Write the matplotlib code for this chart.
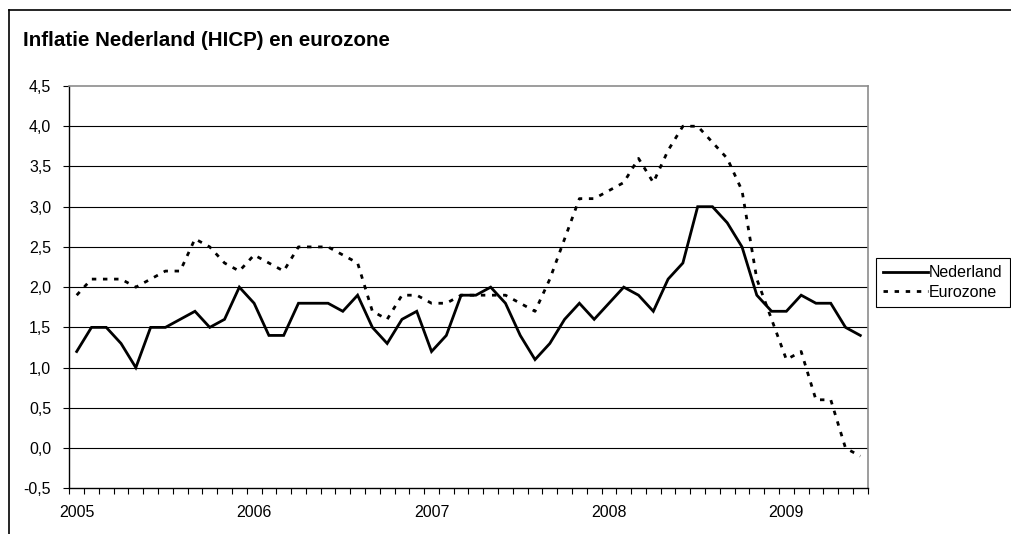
import matplotlib
matplotlib.use("Agg")
import matplotlib.pyplot as plt
from matplotlib.lines import Line2D

plt.rcParams['font.family'] = ['Liberation Sans', 'DejaVu Sans']

title = "Inflatie Nederland (HICP) en eurozone"
year_labels = ["2005", "2006", "2007", "2008", "2009"]
y_ticks = [-0.5, 0.0, 0.5, 1.0, 1.5, 2.0, 2.5, 3.0, 3.5, 4.0, 4.5]
y_tick_labels = ["-0,5", "0,0", "0,5", "1,0", "1,5", "2,0", "2,5", "3,0", "3,5", "4,0", "4,5"]

# Monthly values, Jan 2005 .. Jun 2009
nederland = [
    1.2, 1.5, 1.5, 1.3, 1.0, 1.5, 1.5, 1.6, 1.7, 1.5, 1.6, 2.0,
    1.8, 1.4, 1.4, 1.8, 1.8, 1.8, 1.7, 1.9, 1.5, 1.3, 1.6, 1.7,
    1.2, 1.4, 1.9, 1.9, 2.0, 1.8, 1.4, 1.1, 1.3, 1.6, 1.8, 1.6,
    1.8, 2.0, 1.9, 1.7, 2.1, 2.3, 3.0, 3.0, 2.8, 2.5, 1.9, 1.7,
    1.7, 1.9, 1.8, 1.8, 1.5, 1.4,
]
eurozone = [
    1.9, 2.1, 2.1, 2.1, 2.0, 2.1, 2.2, 2.2, 2.6, 2.5, 2.3, 2.2,
    2.4, 2.3, 2.2, 2.5, 2.5, 2.5, 2.4, 2.3, 1.7, 1.6, 1.9, 1.9,
    1.8, 1.8, 1.9, 1.9, 1.9, 1.9, 1.8, 1.7, 2.1, 2.6, 3.1, 3.1,
    3.2, 3.3, 3.6, 3.3, 3.7, 4.0, 4.0, 3.8, 3.6, 3.2, 2.1, 1.6,
    1.1, 1.2, 0.6, 0.6, 0.0, -0.1,
]

W, H = 1012, 534
fig = plt.figure(figsize=(W / 100, H / 100), dpi=100)
fig.patch.set_facecolor("white")

# outer chart frame (top and left visible)
fig.add_artist(Line2D([9 / W, 1.0], [1 - 10 / H, 1 - 10 / H], color="black", lw=1.2))
fig.add_artist(Line2D([9 / W, 9 / W], [0.0, 1 - 10 / H], color="black", lw=1.2))

left, right = 69.3 / W, 867.7 / W
bottom, top = 1 - 488.3 / H, 1 - 86 / H
ax = fig.add_axes([left, bottom, right - left, top - bottom])

n = len(nederland)
x = list(range(n))

for yv in y_ticks[1:-1]:
    ax.axhline(yv, color="black", lw=0.8, zorder=1)

ax.plot(x, nederland, color="black", lw=2.0, solid_joinstyle="miter", zorder=3, label="Nederland")
ax.plot(x, eurozone, color="black", lw=2.0, linestyle=(0, (1.6, 2.4)), dash_capstyle="butt",
        zorder=3, label="Eurozone")

ax.set_xlim(-0.5, n - 0.5)
ax.set_ylim(-0.5, 4.5)

ax.set_xticks([i - 0.5 for i in range(n + 1)])
ax.set_xticklabels([])
ax.set_xticks([0, 12, 24, 36, 48], minor=True)
ax.set_xticklabels(year_labels, minor=True)
ax.tick_params(axis="x", which="major", direction="out", length=4, width=0.8, color="black")
ax.tick_params(axis="x", which="minor", length=0, pad=12, labelsize=11.5)

ax.set_yticks(y_ticks)
ax.set_yticklabels(y_tick_labels)
ax.tick_params(axis="y", direction="out", length=4, width=0.8, pad=9, labelsize=11.5)

for s in ("top", "right"):
    ax.spines[s].set_color("#8c8c8c")
    ax.spines[s].set_linewidth(1.2)
for s in ("left", "bottom"):
    ax.spines[s].set_color("black")
    ax.spines[s].set_linewidth(1.0)

fig.text(23 / W, 1 - 41 / H, title, fontsize=14.8, fontweight="bold", ha="left", va="center")

leg = fig.legend(loc="upper left", bbox_to_anchor=(876 / W, 1 - 258 / H), borderaxespad=0,
                 fancybox=False, edgecolor="black", framealpha=1, fontsize=11.5,
                 handlelength=2.8, handletextpad=0.05, borderpad=0.45, labelspacing=0.3)
leg.get_frame().set_linewidth(0.8)

fig.savefig("out.png", dpi=100, facecolor="white")
